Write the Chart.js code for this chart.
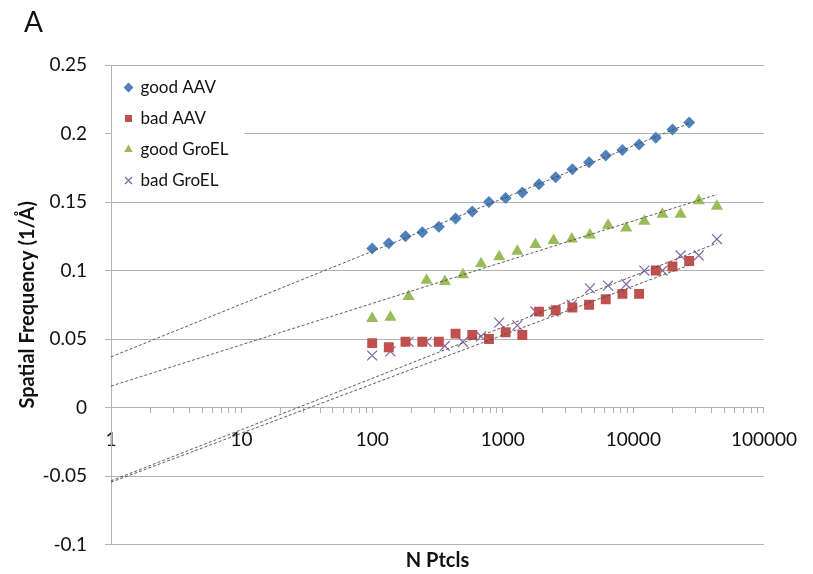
<!DOCTYPE html>
<html><head><meta charset="utf-8">
<script src="https://cdn.jsdelivr.net/npm/chart.js@4.4.0/dist/chart.umd.min.js"></script>
<style>html,body{margin:0;padding:0;background:#fff;}</style>
</head><body>
<canvas id="c" width="813" height="574"></canvas>
<script>
// ---- data ----
const xAAV   = [100, 134, 180, 242, 324, 435, 584, 784, 1052, 1412, 1895, 2543, 3413, 4580, 6146, 8248, 11069, 14855, 19935, 26753];
const xGroEL = [100, 138, 190, 261, 360, 495, 682, 939, 1293, 1780, 2451, 3375, 4648, 6400, 8813, 12136, 16712, 23013, 31690, 43638];
const goodAAV   = [0.116, 0.120, 0.125, 0.128, 0.132, 0.138, 0.143, 0.150, 0.153, 0.157, 0.163, 0.168, 0.174, 0.179, 0.184, 0.188, 0.192, 0.197, 0.203, 0.208];
const badAAV    = [0.047, 0.044, 0.048, 0.048, 0.048, 0.054, 0.053, 0.050, 0.055, 0.053, 0.070, 0.071, 0.073, 0.075, 0.079, 0.083, 0.083, 0.100, 0.103, 0.107];
const goodGroEL = [0.065, 0.066, 0.081, 0.093, 0.092, 0.097, 0.105, 0.110, 0.114, 0.119, 0.122, 0.123, 0.126, 0.133, 0.131, 0.136, 0.141, 0.141, 0.151, 0.147];
const badGroEL  = [0.038, 0.041, 0.048, 0.048, 0.045, 0.048, 0.052, 0.062, 0.060, 0.070, 0.070, 0.075, 0.087, 0.089, 0.090, 0.100, 0.100, 0.111, 0.111, 0.123];
const seriesNames = ['good AAV', 'bad AAV', 'good GroEL', 'bad GroEL'];
// trend lines: value at N = 1 and at the last N of the series
const trendGoodAAV   = [0.037, 0.2075];
const trendBadAAV    = [-0.0545, 0.104];
const trendGoodGroEL = [0.0157, 0.1555];
const trendBadGroEL  = [-0.0535, 0.120];
const xTickLabels = [1, 10, 100, 1000, 10000, 100000];
const yTickValues = [-0.1, -0.05, 0, 0.05, 0.1, 0.15, 0.2, 0.25];

const FONT = 'Lato';
const GRID = '#b3b3b3';
const TXT = '#111';

function pts(xs, ys) { return xs.map((x, i) => ({x: x, y: ys[i]})); }
function trend(xs, t) { return [{x: 1, y: t[0]}, {x: xs[xs.length - 1], y: t[1]}]; }
function trendSet(data) {
  return {label: 'trend', data: data, showLine: true, pointRadius: 0, pointHoverRadius: 0,
    borderColor: 'rgba(75,75,75,0.9)', borderWidth: 1, borderDash: [3, 2], fill: false, order: 0};
}

const datasets = [
  {label: seriesNames[0], data: pts(xAAV, goodAAV), pointStyle: 'rectRot', pointRadius: 6,
   backgroundColor: '#4F81BD', borderColor: '#4F81BD', borderWidth: 0, order: 1},
  {label: seriesNames[1], data: pts(xAAV, badAAV), pointStyle: 'rect', pointRadius: 7,
   backgroundColor: '#C0504D', borderColor: '#C0504D', borderWidth: 0, order: 1},
  {label: seriesNames[2], data: pts(xGroEL, goodGroEL), pointStyle: 'triangle', pointRadius: 7,
   backgroundColor: '#9BBB59', borderColor: '#9BBB59', borderWidth: 0, order: 1},
  {label: seriesNames[3], data: pts(xGroEL, badGroEL), pointStyle: 'crossRot', pointRadius: 7,
   backgroundColor: '#8064A2', borderColor: '#8064A2', borderWidth: 1.2, order: 1},
  trendSet(trend(xAAV, trendGoodAAV)),
  trendSet(trend(xAAV, trendBadAAV)),
  trendSet(trend(xGroEL, trendGoodGroEL)),
  trendSet(trend(xGroEL, trendBadGroEL))
];

const legendBg = {
  id: 'legendBg',
  afterLayout(chart) {
    const lg = chart.legend, ca = chart.chartArea;
    if (!lg) return;
    lg.top = ca.top; lg.bottom = ca.bottom; lg.height = ca.bottom - ca.top;
  },
  beforeDatasetsDraw(chart) {
    const lg = chart.legend;
    if (!lg || !lg.legendHitBoxes || !lg.legendHitBoxes.length) return;
    const ca = chart.chartArea;
    let r = 0, b = 0;
    lg.legendHitBoxes.forEach(h => { r = Math.max(r, h.left + h.width); b = Math.max(b, h.top + h.height); });
    const ctx = chart.ctx;
    ctx.save();
    ctx.fillStyle = '#fff';
    ctx.fillRect(ca.left + 1, ca.top + 2, r + 16 - ca.left - 1, b + 12 - ca.top - 2);
    ctx.restore();
    lg.draw();
  }
};
const panelLabel = {
  id: 'panelLabel',
  afterDraw(chart) {
    const ctx = chart.ctx;
    ctx.save();
    ctx.fillStyle = TXT;
    ctx.font = '28px ' + FONT;
    ctx.textBaseline = 'alphabetic';
    ctx.textAlign = 'left';
    ctx.fillText('A', 24, 32);
    ctx.restore();
  }
};

new Chart(document.getElementById('c'), {
  type: 'scatter',
  data: {datasets: datasets},
  plugins: [legendBg, panelLabel],
  options: {
    responsive: false,
    animation: false,
    layout: {padding: {top: 65, right: 35, bottom: 0, left: 0}},
    plugins: {
      tooltip: {enabled: false},
      legend: {
        position: 'chartArea', align: 'start',
        labels: {
          usePointStyle: true, boxWidth: 7, boxHeight: 7, padding: 14,
          font: {family: FONT, size: 17}, color: TXT,
          filter: (item) => item.datasetIndex < 4
        }
      }
    },
    scales: {
      x: {
        type: 'logarithmic', min: 1, max: 100000, position: {y: 0},
        afterBuildTicks: (s) => {
          const t = [];
          for (let e = 0; e < 5; e++) for (let m = 1; m < 10; m++) t.push({value: m * Math.pow(10, e)});
          t.push({value: 100000});
          s.ticks = t;
        },
        ticks: {autoSkip: false, maxRotation: 0, minRotation: 0, padding: 16,
          font: {family: FONT, size: 19}, color: TXT,
          callback: (v) => xTickLabels.includes(v) ? String(v) : ''},
        grid: {drawOnChartArea: false, drawTicks: true, tickLength: 5, color: GRID},
        border: {color: GRID, width: 1},
        afterFit: (s) => { s.height = 0; }
      },
      xTitle: {
        type: 'linear', position: 'bottom', display: true, min: 0, max: 1,
        ticks: {display: false}, grid: {display: false, drawTicks: false}, border: {display: false},
        title: {display: true, text: 'N Ptcls', font: {family: FONT, size: 20, weight: 'bold'}, color: TXT,
          padding: {top: 0, bottom: 0}},
        afterFit: (s) => { s.height = 28; }
      },
      y: {
        type: 'linear', min: -0.1, max: 0.25,
        afterBuildTicks: (s) => { s.ticks = yTickValues.map(v => ({value: v})); },
        ticks: {padding: 18, font: {family: FONT, size: 19}, color: TXT,
          callback: (v) => String(+Number(v).toFixed(2))},
        grid: {color: GRID, tickLength: 6, drawTicks: true},
        border: {color: GRID, width: 1},
        title: {display: true, text: 'Spatial Frequency (1/Å)', font: {family: FONT, size: 20, weight: 'bold'},
          color: TXT, padding: {top: 16, bottom: 0}},
        afterFit: (s) => { s.width = 111; }
      }
    }
  }
});
</script>
</body></html>
